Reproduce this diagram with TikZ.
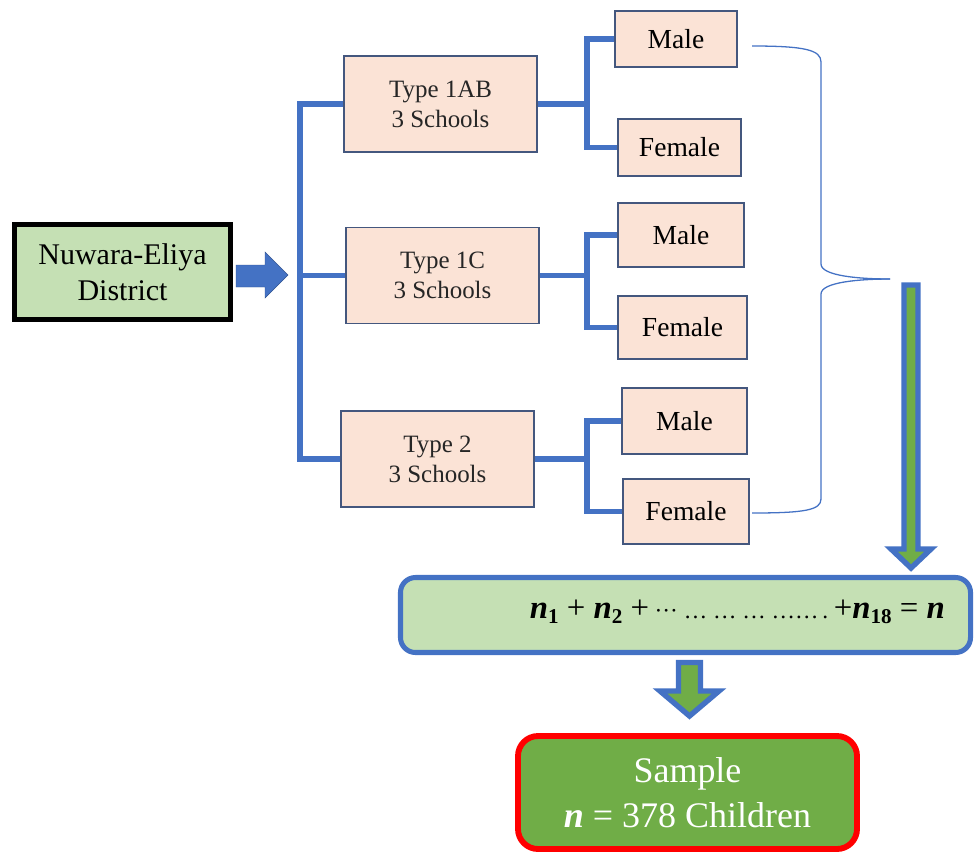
\documentclass[tikz,border=0pt]{standalone}
\usepackage{fontspec}
\setmainfont{Liberation Serif}
\definecolor{blueA}{HTML}{4472C4}
\definecolor{blueD}{HTML}{2F528F}
\definecolor{peach}{HTML}{FBE3D6}
\definecolor{peachB}{HTML}{44577E}
\definecolor{lgreen}{HTML}{C5E0B4}
\definecolor{dgreen}{HTML}{70AD47}
\definecolor{redB}{HTML}{FF0000}
\newcommand{\bn}{{\bfseries\itshape n}}
\newcommand{\bsub}[1]{\raisebox{-0.3ex}{\fontsize{18}{18}\selectfont\bfseries #1}}
\newcommand{\sdots}[1]{{\fontsize{20}{20}\selectfont #1}}
\tikzset{
  district/.style={draw=black, line width=4.3pt, fill=lgreen, inner sep=0pt,
    minimum width=6.48cm, minimum height=2.85cm, align=center,
    font=\fontsize{25.6}{31}\selectfont},
  typebox/.style={draw=peachB, line width=1.4pt, fill=peach, inner sep=0pt,
    minimum width=5.79cm, minimum height=2.88cm, align=center, text=black!85,
    font=\fontsize{21.3}{25.6}\selectfont},
  sexbox/.style={draw=peachB, line width=1.4pt, fill=peach, inner sep=0pt,
    align=center, font=\fontsize{23.5}{28}\selectfont},
  conn/.style={draw=blueA, line width=4.3pt},
  bracel/.style={draw=blueA, line width=1.1pt},
  blockarrow/.style={draw=blueA, line width=4.6pt, fill=dgreen, line join=miter},
}
\begin{document}
\begin{tikzpicture}[x=0.03cm, y=-0.03cm]
\useasboundingbox (0,0) rectangle (976,854);

% left box
\node[district] (dist) at (122.5,272) {Nuwara-Eliya\\District};

% type boxes
\node[typebox] (t1) at (440.5,104) {Type 1AB\\3 Schools};
\node[typebox] (t2) at (442.5,275.5) {Type 1C\\3 Schools};
\node[typebox] (t3) at (437.5,459) {Type 2\\3 Schools};

% male / female boxes
\node[sexbox, minimum width=3.66cm, minimum height=1.68cm] (m1) at (676,39) {Male};
\node[sexbox, minimum width=3.69cm, minimum height=1.71cm] (f1) at (679.5,147.5) {Female};
\node[sexbox, minimum width=3.78cm, minimum height=1.92cm] (m2) at (681,235) {Male};
\node[sexbox, minimum width=3.87cm, minimum height=1.89cm] (f2) at (682.5,327.5) {Female};
\node[sexbox, minimum width=3.75cm, minimum height=1.98cm] (m3) at (684.5,421) {Male};
\node[sexbox, minimum width=3.78cm, minimum height=1.95cm] (f3) at (686,511.5) {Female};

% formula box
\node[draw=blueA, line width=4.3pt, fill=lgreen, rounded corners=0.45cm,
  minimum width=17.1cm, minimum height=2.25cm, inner sep=0pt] (sumbox) at (685.5,615) {};
\node[anchor=east, inner sep=0pt, font=\fontsize{28}{30}\selectfont] (sumtxt)
  at (945,612) {\bn\bsub{1}\ +\ \bn\bsub{2}\ +\,\sdots{···\ …\ …\ …\ ……\,.}\,+\bn\bsub{18}\ =\ \bn};

% sample box
\node[draw=redB, line width=5pt, fill=dgreen, rounded corners=0.6cm,
  minimum width=10.17cm, minimum height=3.39cm, inner sep=0pt, align=center,
  text=white, font=\fontsize{30.7}{38.5}\selectfont] (samp) at (687.5,792.5)
  {Sample\\\bn{} = 378 Children};

% block arrow district -> bar
\fill[blueA, draw=blueD, line width=0.4pt]
  (236,265) -- (265,265) -- (265,252) -- (288,275)
  -- (265,298) -- (265,287) -- (236,287) -- cycle;

% left bar
\coordinate (bar) at (300,0);
\draw[conn] (t1.west) -- (t1.west -| bar) -- (t3.west -| bar) -- (t3.west);
\draw[conn] (t2.west -| bar) -- (t2.west);

% forks
\coordinate (fk) at (587,0);
\draw[conn] (t1.east) -- (t1.east -| fk);
\draw[conn] (m1.west) -- (m1.west -| fk) -- (f1.west -| fk) -- (f1.west);
\draw[conn] (t2.east) -- (t2.east -| fk);
\draw[conn] (m2.west) -- (m2.west -| fk) -- (f2.west -| fk) -- (f2.west);
\draw[conn] (t3.east) -- (t3.east -| fk);
\draw[conn] (m3.west) -- (m3.west -| fk) -- (f3.west -| fk) -- (f3.west);

% brace
\coordinate (btop) at (752,46);
\coordinate (btip) at (890,279);
\coordinate (bbot) at (752,513);
\draw[bracel] (btop) .. controls (805,46) and (821,50) .. (821,62) -- (821,264)
  .. controls (821,276) and (860,279) .. (btip);
\draw[bracel] (btip) .. controls (860,279) and (821,282) .. (821,294) -- (821,499)
  .. controls (821,510) and (805,513) .. (bbot);

% long down arrow
\draw[blockarrow] (904,285) -- (918,285) -- (918,549) -- (931,549) -- (911,568)
  -- (891,549) -- (904,549) -- cycle;

% small down arrow
\draw[blockarrow] (678.5,662.5) -- (700.5,662.5) -- (700.5,691) -- (719,691)
  -- (689.5,716) -- (660,691) -- (678.5,691) -- cycle;
\end{tikzpicture}
\end{document}
